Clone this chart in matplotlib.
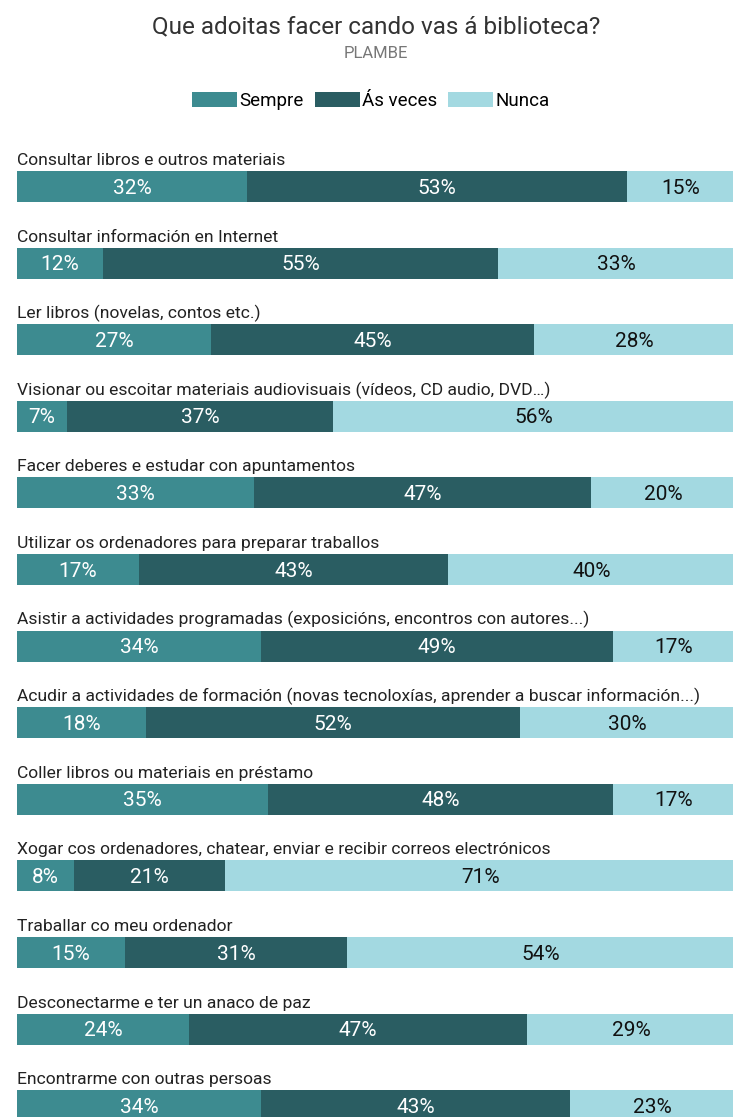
import matplotlib.pyplot as plt
from matplotlib.patches import Patch
import numpy as np

plt.rcParams['font.family'] = ['Roboto', 'DejaVu Sans']

actividades = [
    "Consultar libros e outros materiais",
    "Consultar información en Internet",
    "Ler libros (novelas, contos etc.)",
    "Visionar ou escoitar materiais audiovisuais (vídeos, CD audio, DVD…)",
    "Facer deberes e estudar con apuntamentos",
    "Utilizar os ordenadores para preparar traballos",
    "Asistir a actividades programadas (exposicións, encontros con autores...)",
    "Acudir a actividades de formación (novas tecnoloxías, aprender a buscar información...)",
    "Coller libros ou materiais en préstamo",
    "Xogar cos ordenadores, chatear, enviar e recibir correos electrónicos",
    "Traballar co meu ordenador",
    "Desconectarme e ter un anaco de paz",
    "Encontrarme con outras persoas",
]
sempre = [32, 12, 27, 7, 33, 17, 34, 18, 35, 8, 15, 24, 34]
as_veces = [53, 55, 45, 37, 47, 43, 49, 52, 48, 21, 31, 47, 43]
nunca = [15, 33, 28, 56, 20, 40, 17, 30, 17, 71, 54, 29, 23]

series = [("Sempre", sempre, "#3d8b90", "white"),
          ("Ás veces", as_veces, "#2a5d62", "white"),
          ("Nunca", nunca, "#a3d9e1", "#111111")]

W, H = 733, 1117
fig = plt.figure(figsize=(W / 100, H / 100), dpi=100)
ax = fig.add_axes([17 / W, 0, 718 / W, 1])

paso = 76.6          # separacion entre barras (px)
alto = 31 / paso     # alto da barra en unidades de fila
y0 = 186.5 / paso
ax.set_ylim((H - 186.5) / paso, -y0)
ax.set_xlim(0, 100)
ax.axis('off')

y = np.arange(len(actividades))
esquerda = np.zeros(len(actividades))
for nome, valores, cor, cor_texto in series:
    valores = np.array(valores)
    ax.barh(y, valores, left=esquerda, height=alto, color=cor, edgecolor='none')
    for yi, l, v in zip(y, esquerda, valores):
        ax.text(l + v / 2, yi + 0.02, f"{v}%", ha='center', va='center',
                fontsize=15, color=cor_texto)
    esquerda += valores

for yi, nome in zip(y, actividades):
    ax.text(0, yi - alto / 2 - 6 / paso, nome, ha='left', va='baseline',
            fontsize=12.6, color='#222222')

fig.text(0.513, 1 - 27 / H, "Que adoitas facer cando vas á biblioteca?",
         ha='center', va='center', fontsize=17.5, color='#333333')
fig.text(0.513, 1 - 53 / H, "PLAMBE", ha='center', va='center',
         fontsize=12, color='#777777')

handles = [Patch(facecolor=c, label=n) for n, _, c, _ in series]
fig.legend(handles=handles, loc='center', bbox_to_anchor=(0.506, 1 - 101 / H),
           ncol=3, frameon=False, fontsize=13.5, handlelength=2.4,
           handleheight=0.8, handletextpad=0.1, columnspacing=0.6)

fig.savefig("out.png", dpi=100)
